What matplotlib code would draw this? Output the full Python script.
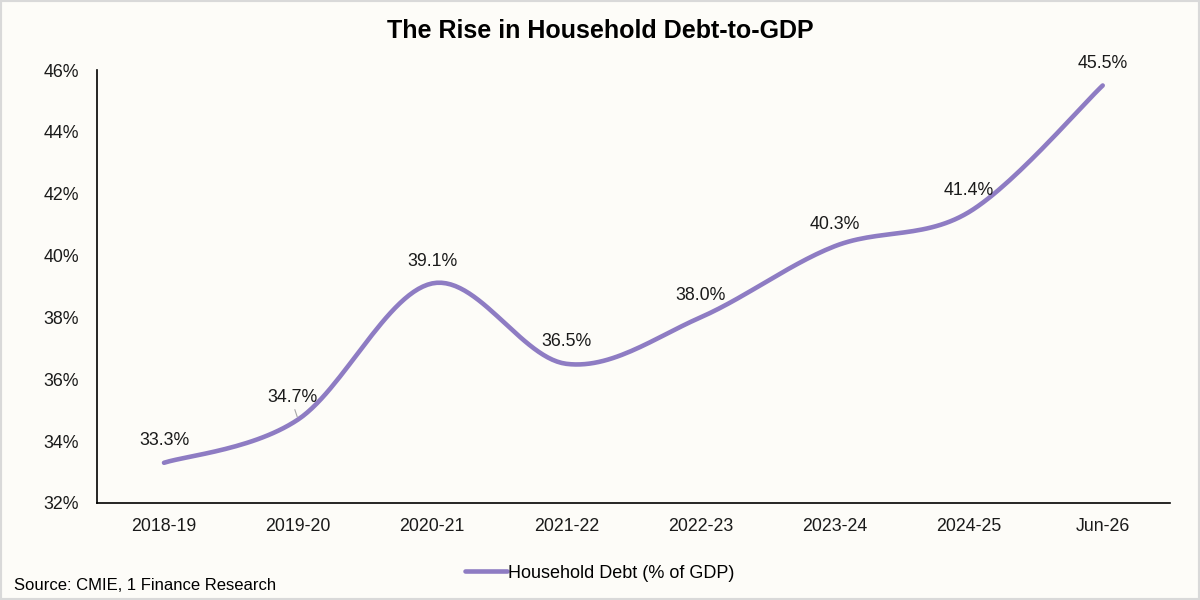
import matplotlib.pyplot as plt
import numpy as np
from matplotlib.patches import Rectangle

plt.rcParams['font.family'] = ['Liberation Sans', 'DejaVu Sans']

years = ['2018-19', '2019-20', '2020-21', '2021-22', '2022-23', '2023-24', '2024-25', 'Jun-26']
debt = [33.3, 34.7, 39.1, 36.5, 38.0, 40.3, 41.4, 45.5]

line_color = '#8E7CC3'
bg = '#FDFCF8'


def smooth(xs, ys, n=30):
    # excel style smoothed line: bezier segments with catmull-rom tangents
    xs = np.asarray(xs, float)
    ys = np.asarray(ys, float)
    px = np.concatenate([[xs[0]], xs, [xs[-1]]])
    py = np.concatenate([[ys[0]], ys, [ys[-1]]])
    t = np.linspace(0, 1, n)
    ox, oy = [], []
    for i in range(1, len(px) - 2):
        p0 = np.array([px[i], py[i]])
        p3 = np.array([px[i + 1], py[i + 1]])
        c1 = p0 + (np.array([px[i + 1], py[i + 1]]) - np.array([px[i - 1], py[i - 1]])) / 6
        c2 = p3 - (np.array([px[i + 2], py[i + 2]]) - p0) / 6
        pts = ((1 - t) ** 3)[:, None] * p0 + (3 * (1 - t) ** 2 * t)[:, None] * c1 \
            + (3 * (1 - t) * t ** 2)[:, None] * c2 + (t ** 3)[:, None] * p3
        ox.extend(pts[:, 0])
        oy.extend(pts[:, 1])
    return np.array(ox), np.array(oy)


fig = plt.figure(figsize=(12, 6), dpi=100, facecolor=bg)
ax = fig.add_axes([0.0808, 0.1617, 0.894, 0.7216])
ax.set_facecolor(bg)

x = np.arange(len(years))
sx, sy = smooth(x, debt)
ax.plot(sx, sy, color=line_color, lw=3.3, solid_capstyle='round',
        label='Household Debt (% of GDP)')

for xi, v in zip(x, debt):
    dx = -4 if xi == 1 else 0
    ax.annotate(f'{v:.1f}%', (xi, v), xytext=(dx, 16), textcoords='offset points',
                ha='center', va='center', fontsize=12.8, color='#1a1a1a')
# small leader line for the 2019-20 label
ax.annotate('', (1, 34.7), xytext=(-3, 9), textcoords='offset points',
            arrowprops=dict(arrowstyle='-', color='#A6A6A6', lw=0.8))

ax.set_xlim(-0.5, len(years) - 0.5)
ax.set_ylim(32, 46)
ax.set_xticks(x)
ax.set_xticklabels(years)
yt = np.arange(32, 47, 2)
ax.set_yticks(yt)
ax.set_yticklabels([f'{v}%' for v in yt])
ax.tick_params(length=0, labelsize=12.8, colors='#1a1a1a')
ax.tick_params(axis='x', pad=11)
ax.tick_params(axis='y', pad=13)
for s in ['top', 'right']:
    ax.spines[s].set_visible(False)
for s in ['left', 'bottom']:
    ax.spines[s].set_color('black')
    ax.spines[s].set_linewidth(1.2)

fig.text(0.5, 0.948, 'The Rise in Household Debt-to-GDP', ha='center', va='center',
         fontsize=18, fontweight='bold')
fig.legend(loc='center', bbox_to_anchor=(0.5, 0.045), frameon=False, fontsize=13,
           handlelength=2.3, handletextpad=0.1)
fig.text(0.012, 0.025, 'Source: CMIE, 1 Finance Research', ha='left', va='center',
         fontsize=12)

fig.patches.append(Rectangle((0, 0), 1, 1, transform=fig.transFigure, fill=False,
                             edgecolor='#D9D9D9', lw=3))

fig.savefig('out.png', dpi=100, facecolor=bg)
